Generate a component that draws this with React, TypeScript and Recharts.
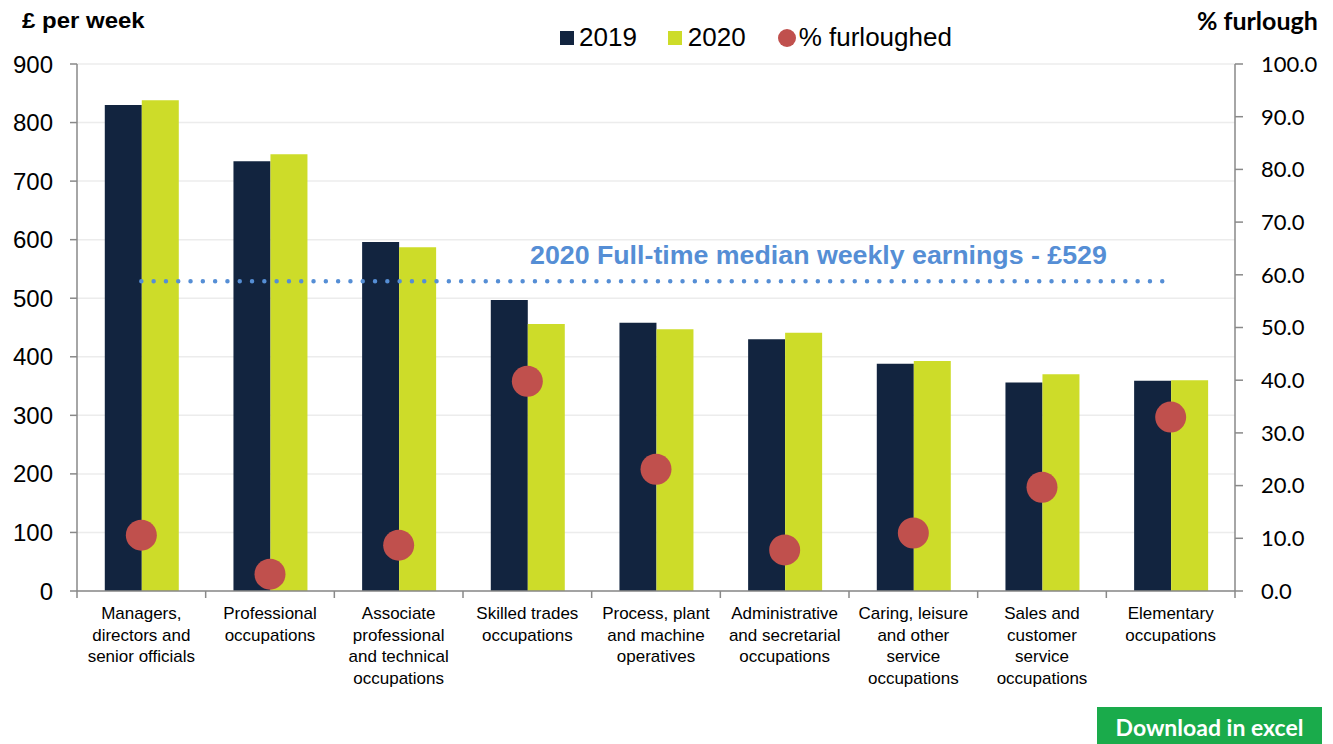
import { ComposedChart, Bar, Scatter, XAxis, YAxis, CartesianGrid, ReferenceLine } from 'recharts'

const occupations = [
  'Managers,\ndirectors and\nsenior officials',
  'Professional\noccupations',
  'Associate\nprofessional\nand technical\noccupations',
  'Skilled trades\noccupations',
  'Process, plant\nand machine\noperatives',
  'Administrative\nand secretarial\noccupations',
  'Caring, leisure\nand other\nservice\noccupations',
  'Sales and\ncustomer\nservice\noccupations',
  'Elementary\noccupations',
]
const earnings2019 = [830, 734, 596, 497, 458, 430, 388, 356, 359]
const earnings2020 = [838, 746, 587, 456, 447, 441, 393, 370, 360]
const furloughed = [10.6, 3.2, 8.7, 39.8, 23.1, 7.8, 11.0, 19.7, 33.0]
const medianWeekly2020 = 529
const poundTicks = [0, 100, 200, 300, 400, 500, 600, 700, 800, 900]
const furloughTicks = [0, 10, 20, 30, 40, 50, 60, 70, 80, 90, 100]

const NAVY = '#12243f'
const LIME = '#cddc29'
const RED = '#c0504d'
const BLUE = '#558ed5'
const AXIS = '#898989'
const ARIAL = '"Liberation Sans", Arial, sans-serif'
const CALIBRI = 'Lato, "Open Sans", sans-serif'

const chartData = occupations.map((name, i) => ({
  name,
  y2019: earnings2019[i],
  y2020: earnings2020[i],
  furlough: furloughed[i],
}))

const CategoryTick = (props: any) => {
  const { x, y, payload, index } = props
  const half = payload.offset || 64.3
  const lines = String(payload.value).split('\n')
  return (
    <g>
      <line x1={x - half} x2={x - half} y1={y} y2={y + 7} stroke={AXIS} strokeWidth={1.5} />
      {index === occupations.length - 1 && (
        <line x1={x + half} x2={x + half} y1={y} y2={y + 7} stroke={AXIS} strokeWidth={1.5} />
      )}
      <text x={x} y={y + 28} textAnchor="middle" fontFamily={ARIAL} fontSize={17} fill="#000">
        {lines.map((l, i) => (
          <tspan key={i} x={x} dy={i === 0 ? 0 : 21.6}>{l}</tspan>
        ))}
      </text>
    </g>
  )
}

const Dot = (props: any) => <circle cx={props.cx} cy={props.cy} r={15.5} fill={RED} />

export default function App() {
  return (
    <div style={{ position: 'fixed', left: 0, top: 0, width: 1333, height: 744, background: '#fff', overflow: 'hidden' }}>
      <div style={{ position: 'absolute', left: 22, top: 8, fontFamily: ARIAL, fontWeight: 'bold', fontSize: 22, transform: 'scaleX(1.09)', transformOrigin: 'left center' }}>£ per week</div>
      <div style={{ position: 'absolute', left: 1197, top: 6, fontFamily: CALIBRI, fontWeight: 'bold', fontSize: 24, transform: 'scaleX(1.04)', transformOrigin: 'left center' }}>% furlough</div>

      <div style={{ position: 'absolute', left: 560, top: 22, display: 'flex', alignItems: 'center', fontFamily: ARIAL, fontSize: 26, color: '#000', whiteSpace: 'nowrap' }}>
        <span style={{ width: 14, height: 14, background: NAVY, marginRight: 5 }} />
        <span style={{ marginRight: 31 }}>2019</span>
        <span style={{ width: 14, height: 14, background: LIME, marginRight: 6 }} />
        <span style={{ marginRight: 32 }}>2020</span>
        <span style={{ width: 18, height: 18, borderRadius: 9, background: RED, marginRight: 3 }} />
        <span>% furloughed</span>
      </div>

      <div style={{ position: 'absolute', left: 530, top: 241, fontFamily: ARIAL, fontWeight: 'bold', fontSize: 25, color: BLUE, whiteSpace: 'nowrap', transform: 'scaleX(1.07)', transformOrigin: 'left center' }}>
        2020 Full-time median weekly earnings - £529
      </div>

      <ComposedChart
        width={1333}
        height={744}
        data={chartData}
        margin={{ top: 64, right: 0, bottom: 53, left: 15 }}
        barCategoryGap="21.6%"
        barGap={0}
      >
        <CartesianGrid yAxisId="left" vertical={false} stroke="#ececec" strokeWidth={1.5} />
        <XAxis
          dataKey="name"
          interval={0}
          height={100}
          tick={<CategoryTick />}
          tickLine={false}
          tickSize={0}
          tickMargin={0}
          axisLine={{ stroke: AXIS, strokeWidth: 1.5 }}
        />
        <YAxis
          yAxisId="left"
          width={62}
          domain={[0, 900]}
          ticks={poundTicks}
          interval={0}
          tickSize={7}
          tickMargin={17}
          tickLine={{ stroke: AXIS, strokeWidth: 1.5 }}
          axisLine={{ stroke: AXIS, strokeWidth: 1.5 }}
          tick={{ fill: '#000', fontSize: 24, fontFamily: ARIAL }}
        />
        <YAxis
          yAxisId="right"
          orientation="right"
          width={98}
          domain={[0, 100]}
          ticks={furloughTicks}
          interval={0}
          tickSize={8}
          tickMargin={18}
          tickFormatter={(v: number) => v.toFixed(1)}
          tickLine={{ stroke: AXIS, strokeWidth: 1.5 }}
          axisLine={{ stroke: AXIS, strokeWidth: 1.5 }}
          tick={{ fill: '#000', fontSize: 22, fontFamily: CALIBRI }}
        />
        <Bar yAxisId="left" dataKey="y2019" name="2019" fill={NAVY} isAnimationActive={false} />
        <Bar yAxisId="left" dataKey="y2020" name="2020" fill={LIME} isAnimationActive={false} />
        <ReferenceLine
          yAxisId="left"
          segment={[
            { x: occupations[0], y: medianWeekly2020 },
            { x: occupations[occupations.length - 1], y: medianWeekly2020 },
          ]}
          stroke={BLUE}
          strokeWidth={4.5}
          strokeDasharray="0 12.3"
          strokeLinecap="round"
        />
        <Scatter yAxisId="right" dataKey="furlough" name="% furloughed" shape={<Dot />} isAnimationActive={false} />
      </ComposedChart>

      <div
        style={{
          position: 'absolute', left: 1097, top: 707, width: 225, height: 40, background: '#1aab4b',
          color: '#fff', fontFamily: CALIBRI, fontWeight: 'bold', fontSize: 23, textAlign: 'center', lineHeight: '40px',
        }}
      >
        Download in excel
      </div>
    </div>
  )
}
